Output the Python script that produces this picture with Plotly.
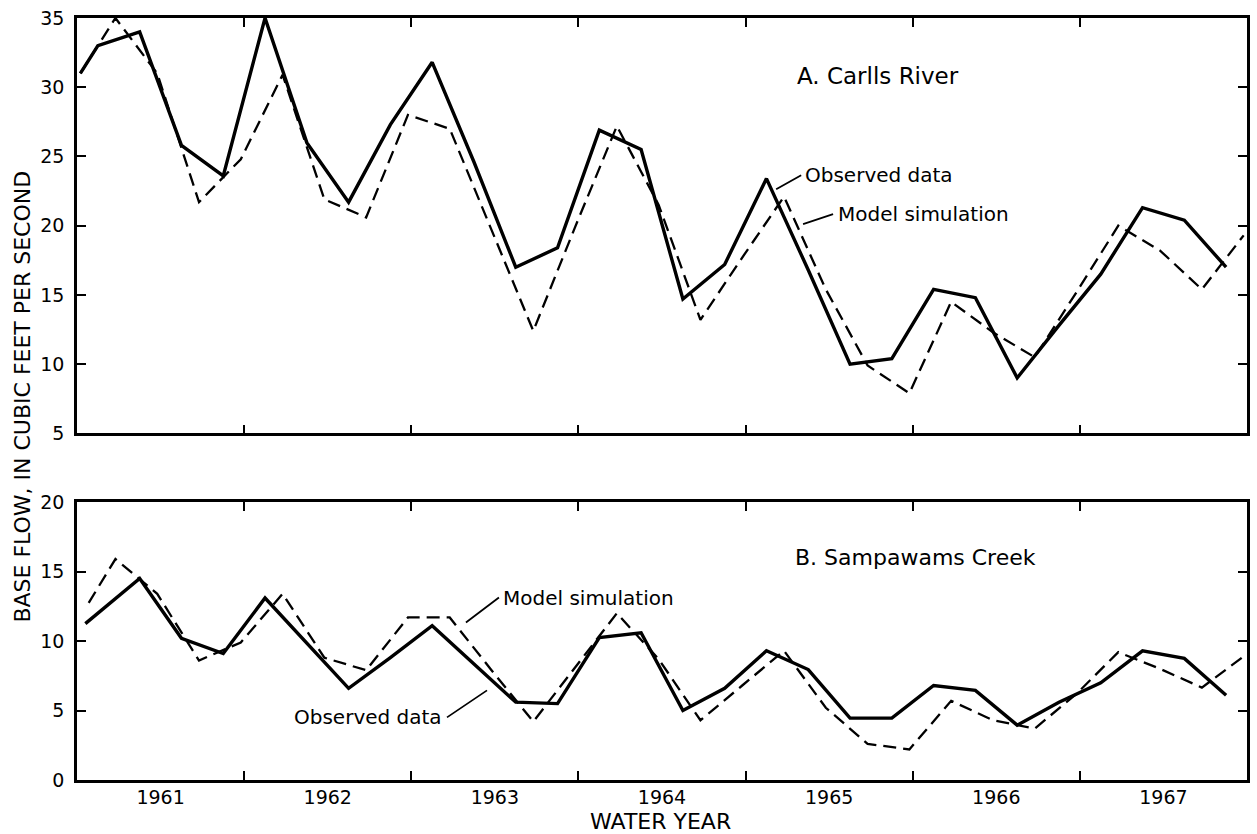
import plotly.graph_objects as go

# ---------------- data ----------------
water_years = [1961, 1962, 1963, 1964, 1965, 1966, 1967]
year_bounds = [1961.5, 1962.5, 1963.5, 1964.5, 1965.5, 1966.5]

# A. Carlls River
carlls_obs_x = [1960.52, 1960.625, 1960.875, 1961.125, 1961.375, 1961.625, 1961.875,
                1962.125, 1962.375, 1962.625, 1962.875, 1963.125, 1963.375, 1963.625,
                1963.875, 1964.125, 1964.375, 1964.625, 1964.875, 1965.125, 1965.375,
                1965.625, 1965.875, 1966.125, 1966.375, 1966.625, 1966.875, 1967.125,
                1967.375]
carlls_obs = [31.0, 33.0, 34.0, 25.8, 23.6, 35.0, 26.0, 21.7, 27.3, 31.8, 24.6,
              17.0, 18.4, 26.9, 25.5, 14.7, 17.2, 23.4, 16.8, 10.0, 10.4,
              15.4, 14.8, 9.0, 12.8, 16.5, 21.3, 20.4, 17.0]
carlls_sim_x = [1960.52, 1960.73, 1960.98, 1961.23, 1961.48, 1961.73, 1961.98,
                1962.23, 1962.48, 1962.73, 1962.98, 1963.23, 1963.48, 1963.73,
                1963.98, 1964.23, 1964.48, 1964.73, 1964.98, 1965.23, 1965.48,
                1965.73, 1965.98, 1966.23, 1966.48, 1966.73, 1966.98, 1967.23,
                1967.48]
carlls_sim = [31.0, 35.0, 31.0, 21.7, 24.8, 30.9, 21.9, 20.6, 28.0, 27.0, 19.7,
              12.4, 19.9, 27.2, 21.5, 13.2, 17.7, 22.1, 15.4, 9.9, 7.9,
              14.5, 12.3, 10.5, 15.2, 20.0, 18.2, 15.4, 19.3]

# B. Sampawams Creek
samp_obs_x = [1960.55, 1960.875, 1961.125, 1961.375, 1961.625, 1961.875,
              1962.125, 1962.375, 1962.625, 1962.875, 1963.125, 1963.375, 1963.625,
              1963.875, 1964.125, 1964.375, 1964.625, 1964.875, 1965.125, 1965.375,
              1965.625, 1965.875, 1966.125, 1966.375, 1966.625, 1966.875, 1967.125,
              1967.375]
samp_obs = [11.25, 14.5, 10.2, 9.1, 13.1, 9.85, 6.6, 8.8, 11.1, 8.35, 5.6,
            5.5, 10.25, 10.6, 5.0, 6.6, 9.3, 7.95, 4.45, 4.45, 6.8,
            6.45, 3.95, 5.6, 7.0, 9.3, 8.75, 6.1]
samp_sim_x = [1960.57, 1960.73, 1960.98, 1961.23, 1961.48, 1961.73, 1961.98,
              1962.23, 1962.48, 1962.73, 1962.98, 1963.23, 1963.48, 1963.73,
              1963.98, 1964.23, 1964.48, 1964.73, 1964.98, 1965.23, 1965.48,
              1965.73, 1965.98, 1966.23, 1966.48, 1966.73, 1966.98, 1967.23,
              1967.48]
samp_sim = [12.75, 15.9, 13.4, 8.6, 9.9, 13.4, 8.8, 7.9, 11.7, 11.7, 7.9,
            4.2, 8.1, 12.0, 8.7, 4.3, 6.8, 9.3, 5.2, 2.6, 2.2,
            5.7, 4.3, 3.7, 6.2, 9.2, 8.0, 6.65, 8.9]

FONT = "DejaVu Sans"
BLACK = "black"

solid = dict(color=BLACK, width=3.4)
dashed = dict(color=BLACK, width=2.3, dash="13px,7px")

fig = go.Figure()
fig.add_trace(go.Scatter(x=carlls_obs_x, y=carlls_obs, mode="lines", line=solid,
                         xaxis="x", yaxis="y", showlegend=False))
fig.add_trace(go.Scatter(x=carlls_sim_x, y=carlls_sim, mode="lines", line=dashed,
                         xaxis="x", yaxis="y", showlegend=False))
fig.add_trace(go.Scatter(x=samp_obs_x, y=samp_obs, mode="lines", line=solid,
                         xaxis="x2", yaxis="y2", showlegend=False))
fig.add_trace(go.Scatter(x=samp_sim_x, y=samp_sim, mode="lines", line=dashed,
                         xaxis="x2", yaxis="y2", showlegend=False))

xcommon = dict(range=[1960.5, 1967.5], tickmode="array", tickvals=water_years,
               ticktext=[str(y) for y in water_years], ticks="", showline=True,
               linecolor=BLACK, linewidth=2.5, mirror="ticks", showgrid=False,
               zeroline=False, tickfont=dict(family=FONT, size=19, color=BLACK),
               minor=dict(tickmode="array", tickvals=year_bounds, ticks="inside",
                          ticklen=9, tickwidth=2, tickcolor=BLACK, showgrid=False))
ycommon = dict(ticks="inside", ticklen=9, tickwidth=2, tickcolor=BLACK, dtick=5,
               showline=True, linecolor=BLACK, linewidth=2.5, mirror="ticks",
               showgrid=False, zeroline=False, ticklabelstandoff=6,
               tickfont=dict(family=FONT, size=19, color=BLACK))

fig.update_layout(
    width=1257, height=834,
    margin=dict(l=77, r=7, t=15, b=54),
    paper_bgcolor="white", plot_bgcolor="white",
    font=dict(family=FONT, color=BLACK),
    xaxis=dict(xcommon, domain=[0, 1], anchor="y", showticklabels=False),
    yaxis=dict(ycommon, domain=[0.4549, 1.0], range=[5, 35], anchor="x"),
    xaxis2=dict(xcommon, domain=[0, 1], anchor="y2", showticklabels=True,
                ticklabelstandoff=-2),
    yaxis2=dict(ycommon, domain=[0.0, 0.3647], range=[0, 20], anchor="x2"),
)

ann_font = dict(family=FONT, size=20, color=BLACK)
annotations = [
    dict(text="A. Carlls River", x=1964.797, y=30.8, xref="x", yref="y",
         xanchor="left", yanchor="middle", showarrow=False,
         font=dict(family=FONT, size=23, color=BLACK)),
    dict(text="B. Sampawams Creek", x=1964.785, y=16.0, xref="x2", yref="y2",
         xanchor="left", yanchor="middle", showarrow=False,
         font=dict(family=FONT, size=22, color=BLACK)),
    dict(text="Observed data", x=1964.683, y=22.63, xref="x", yref="y",
         ax=25, ay=-14, xanchor="left", yanchor="middle", showarrow=True,
         arrowhead=0, arrowwidth=1.8, arrowcolor=BLACK, borderpad=3, font=ann_font),
    dict(text="Model simulation", x=1964.844, y=20.11, xref="x", yref="y",
         ax=30, ay=-10, xanchor="left", yanchor="middle", showarrow=True,
         arrowhead=0, arrowwidth=1.8, arrowcolor=BLACK, borderpad=4, font=ann_font),
    dict(text="Model simulation", x=1962.827, y=11.33, xref="x2", yref="y2",
         ax=33, ay=-25, xanchor="left", yanchor="middle", showarrow=True,
         arrowhead=0, arrowwidth=1.8, arrowcolor=BLACK, borderpad=3, font=ann_font),
    dict(text="Observed data", x=1962.953, y=6.45, xref="x2", yref="y2",
         ax=-40, ay=27, xanchor="right", yanchor="middle", showarrow=True,
         arrowhead=0, arrowwidth=1.8, arrowcolor=BLACK, borderpad=4, font=ann_font),
    dict(text="WATER YEAR", x=0.4991, y=-0.0545, xref="paper", yref="paper",
         xanchor="center", yanchor="middle", showarrow=False,
         font=dict(family=FONT, size=22, color=BLACK)),
    dict(text="BASE FLOW, IN CUBIC FEET PER SECOND", x=-0.0469, y=0.5033,
         xref="paper", yref="paper", xanchor="center", yanchor="middle",
         textangle=-90, showarrow=False,
         font=dict(family=FONT, size=22, color=BLACK)),
]
fig.update_layout(annotations=annotations)

fig.write_html("out.html",
               config={"displayModeBar": False},
               post_script="document.body.style.margin='0';"
                           "document.body.style.overflow='hidden';")
